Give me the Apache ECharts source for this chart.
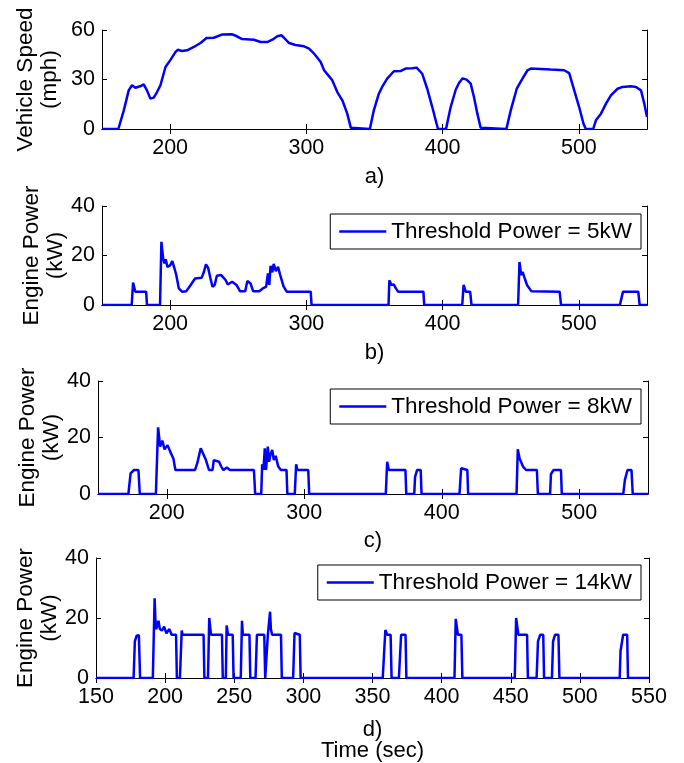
<!DOCTYPE html>
<html>
<head>
<meta charset="utf-8">
<title>Vehicle speed and engine power</title>
<script src="https://cdn.jsdelivr.net/npm/echarts@6/dist/echarts.min.js"></script>
<style>
  html, body { margin: 0; padding: 0; background: #fff; }
  #chart { width: 684px; height: 763px; }
</style>
</head>
<body>
<div id="chart"></div>
<script>
// [time (sec), value] pairs
var speedMph = [[150,0],[162,0],[166,11.3],[169.6,23.4],[172,26.5],[174.5,25],[178,25.9],[180.6,27],[183,23.4],[185.5,18.4],[188,19],[190.4,22.4],[192.9,26.5],[196.6,37.6],[200,41.6],[204,46.7],[205.6,48],[208.8,47.3],[212.5,47.7],[217.4,49.7],[222.3,52.1],[226.7,55.1],[232,55.3],[238,57.2],[245.6,57.4],[249,56.2],[252.9,54.5],[261.5,54.1],[266.4,52.7],[271.3,52.7],[275,54.1],[278.7,56.2],[281.6,56.8],[283.6,55.3],[287.3,52.1],[292,50.9],[298.3,50.1],[302,48.7],[305.6,45.7],[310.5,40.6],[313,35.6],[316.7,31.9],[319,29.5],[322.7,22.4],[326.4,17.4],[330,9.3],[332.6,0.8],[333.8,0],[346.6,0],[349.5,11.3],[353.2,21.4],[355.6,25.5],[359.3,30.5],[364.2,35],[369,35.1],[372.8,36.6],[377.7,36.8],[380.9,37.2],[385,33.5],[388.7,24.4],[392.4,13.3],[394.9,5.3],[396.6,0],[402.5,0],[405.9,13.3],[409.6,23.8],[412,27.9],[414.7,30.7],[417.6,29.9],[420.6,27.5],[423,19.4],[425.5,9.3],[427.9,0.8],[428.4,0],[446.8,0],[450,11.3],[454.4,24.4],[458.6,30.5],[462.3,35.6],[464.7,36.6],[472,36.4],[479.4,36],[489.2,35.6],[492.9,33.9],[496.6,23.4],[500.2,13.3],[503.4,3.2],[505.1,0],[510.5,0],[512.5,5.3],[516.2,9.3],[519.9,15.4],[523.5,20.4],[528.4,24.4],[532.1,25.5],[538.2,25.9],[541.9,25.5],[545.6,23.4],[548,15.4],[550,7.3]];

var power5kW = [[150,0],[171.8,0],[172.8,9.1],[174.4,5.4],[182.4,5.4],[183,0],[192.6,0],[193.6,25.5],[194.9,18.8],[195.8,16.8],[196.8,18.5],[198,15.4],[200,16],[201.6,17.7],[203.2,14.8],[204.5,12.1],[206.4,6.7],[208.7,5.4],[211.9,5.6],[215.1,8.1],[218.3,10.7],[223.1,11],[224.7,13.2],[226.3,16.4],[227.9,15],[229.5,11],[231.1,7.4],[232.7,8.1],[234.3,11.8],[237.5,12.1],[240.7,10.1],[242.3,8.3],[245.5,9.4],[248.7,8.1],[251.3,5.6],[255.1,5.6],[256.7,9.7],[259,8.7],[260.9,5.6],[265.4,5.6],[268,6.7],[270.5,7.4],[271.8,12.8],[272.8,8.1],[273.7,15.8],[275,13.2],[276,16.6],[277.6,13.7],[279.2,15.4],[280.8,12.1],[283.3,7.4],[285.6,5.4],[303.2,5.4],[303.8,0],[360.3,0],[360.9,10],[362.5,8.1],[364.1,8.3],[365.7,6.7],[367.3,5.4],[385.9,5.4],[386.5,0],[414.4,0],[415.4,8.1],[417,5.4],[420.2,5.4],[421.2,0],[455.4,0],[456.4,17.4],[457.7,12.1],[458.7,13.4],[460.3,10.7],[461.9,8.1],[465.1,5.6],[485.9,5.4],[486.9,0],[530.1,0],[532.4,5.4],[543.6,5.4],[544.6,0],[550,0]];

var power8kW = [[150,0],[172.1,0],[173.7,7.3],[176.2,8.5],[179.4,8.5],[180.4,0],[192.1,0],[193.7,23.6],[195.2,16.8],[196.8,18.9],[198.4,15.8],[200.6,17.3],[202.5,15],[204.8,12.6],[206.3,8.5],[220.6,8.5],[222.2,10.9],[224.7,16.2],[226,16.5],[228.5,12],[230.7,8.5],[233.3,8.5],[234.2,12],[238,11.4],[239.6,9.7],[241.2,8.5],[243.7,9.4],[246,8.5],[263.4,8.5],[264.3,0],[268.7,0],[269.4,10.5],[270.3,8.5],[271.3,16.2],[272.2,8.5],[273.5,16.8],[274.4,11.4],[275.4,13.8],[276.7,15.6],[277.9,12],[279.2,13.5],[281.1,9.7],[283,8.5],[287.1,8.5],[287.7,0],[293.1,0],[294.1,10.5],[295,8.5],[302.9,8.5],[303.6,0],[359.3,0],[360.3,11.4],[361.5,8.5],[373.6,8.5],[374.2,0],[380,0],[380.6,6.1],[382.1,8.5],[384.7,8.5],[385.3,0],[412.9,0],[414.1,9.1],[414.8,8.5],[418.6,8.5],[419.2,0],[454.4,0],[455.3,15.8],[456.6,12.6],[457.5,13],[459.1,9.7],[461.3,8.5],[469.2,8.5],[469.9,0],[478.8,0],[479.4,7],[481.3,8.5],[486.7,8.5],[487.3,0],[532,0],[533.2,5],[535.1,8.5],[538,8.5],[538.9,0],[550,0]];

var power14kW = [[150,0],[177.2,0],[178.1,12.2],[179.4,14.1],[181,14.3],[181.9,0],[191.1,0],[192.4,26.6],[193,19.1],[193.6,16.3],[195.2,19.1],[196.2,16.3],[197.7,15.8],[199.3,17.1],[200.9,14.9],[203.1,16.3],[204.7,14.4],[207.9,14.4],[208.5,0],[210.7,0],[212,15.8],[212.6,14.4],[227.8,14.4],[228.4,0],[231,0],[231.9,20],[233.2,14.4],[241.1,14.4],[241.7,0],[243.9,0],[244.5,17.5],[245.5,14.4],[248.9,14.4],[249.5,0],[254.7,0],[255.6,19.1],[256.2,14.4],[261,14.4],[261.6,0],[265.4,0],[266.4,14.4],[271.7,14.4],[272.4,0],[273.5,0],[274.3,14.4],[275.9,22.1],[276.5,16.3],[277.4,14.4],[283.8,14.4],[284.4,0],[292.6,0],[293.6,15],[294.8,14.4],[297.4,14.4],[298,0],[357.4,0],[359.3,16],[360.6,14.4],[363.1,14.4],[363.8,0],[369.1,0],[370.7,14.4],[373.9,14.4],[374.5,0],[409.3,0],[410.2,19.7],[411.8,14.4],[414.3,14.4],[415,0],[452.9,0],[453.9,20],[455.5,14.4],[461.8,14.4],[462.4,0],[468.7,0],[469.7,12.2],[471.3,14.4],[473.5,14.4],[474.1,0],[479.8,0],[480.6,12.2],[482,14.4],[484.5,14.4],[485.2,0],[528.8,0],[529.4,9],[531.3,14.4],[534.2,14.4],[534.8,0],[550,0]];

var panelLabels = ['a)', 'b)', 'c)', 'd)\nTime (sec)'];
var yNames = ['Vehicle Speed\n(mph)', 'Engine Power\n(kW)', 'Engine Power\n(kW)', 'Engine Power\n(kW)'];
var yMax = [60, 40, 40, 40];
var yStep = [30, 20, 20, 20];
var seriesNames = ['Vehicle Speed', 'Threshold Power = 5kW', 'Threshold Power = 8kW', 'Threshold Power = 14kW'];
var seriesData = [speedMph, power5kW, power8kW, power14kW];
var xTicksMain = [200, 300, 400, 500];

var FONT = '"Liberation Sans", Arial, sans-serif';
var grids = [
  {left: 102, right: 37, top: 30, height: 99},
  {left: 102, right: 37, top: 206, height: 99},
  {left: 98, right: 36, top: 381, height: 113},
  {left: 96, right: 35, top: 558, height: 120}
];
var labelGaps = [37, 37, 36, 41];
var nameGaps = [40, 34, 34, 34];
var legendTops = [0, 214, 389, 565];
var legendRights = [0, 43, 43, 43];

var xAxes = [], yAxes = [], series = [], legends = [];
var line = {show: true, lineStyle: {color: '#000', width: 1}};

grids.forEach(function (g, i) {
  var isLast = i === 3;
  var tickCfg = {show: true, inside: true, length: 5, lineStyle: {color: '#000'}};
  if (!isLast) tickCfg.customValues = xTicksMain;
  var labelCfg = {show: true, fontSize: 21.5, color: '#000', fontFamily: FONT, margin: 8};
  if (!isLast) labelCfg.customValues = xTicksMain;

  xAxes.push({
    type: 'value', gridIndex: i, position: 'bottom', min: 150, max: 550, interval: 50,
    axisLine: line, axisTick: tickCfg, axisLabel: labelCfg, splitLine: {show: false},
    name: panelLabels[i], nameLocation: 'middle', nameGap: labelGaps[i], nameMoveOverlap: false,
    nameTextStyle: {fontSize: 22, color: '#000', fontFamily: FONT, lineHeight: 21}
  });
  xAxes.push({
    type: 'value', gridIndex: i, position: 'top', min: 150, max: 550, interval: 50,
    axisLine: line, axisTick: tickCfg, axisLabel: {show: false}, splitLine: {show: false}
  });
  yAxes.push({
    type: 'value', gridIndex: i, position: 'left', min: 0, max: yMax[i], interval: yStep[i],
    axisLine: line,
    axisTick: {show: true, inside: true, length: 5, lineStyle: {color: '#000'}},
    axisLabel: {fontSize: 21.5, color: '#000', fontFamily: FONT, margin: 7},
    splitLine: {show: false},
    name: yNames[i], nameLocation: 'middle', nameRotate: 90, nameGap: nameGaps[i],
    nameMoveOverlap: false,
    nameTextStyle: {fontSize: 22.5, color: '#000', fontFamily: FONT, lineHeight: 24}
  });
  yAxes.push({
    type: 'value', gridIndex: i, position: 'right', min: 0, max: yMax[i], interval: yStep[i],
    axisLine: line,
    axisTick: {show: true, inside: true, length: 5, lineStyle: {color: '#000'}},
    axisLabel: {show: false}, splitLine: {show: false}
  });
  series.push({
    name: seriesNames[i], type: 'line', xAxisIndex: i * 2, yAxisIndex: i * 2,
    data: seriesData[i], showSymbol: false, symbol: 'none', animation: false,
    lineStyle: {color: '#0000ff', width: 2.5}, itemStyle: {color: '#0000ff'}
  });
  if (i > 0) {
    legends.push({
      data: [seriesNames[i]], right: legendRights[i], top: legendTops[i],
      orient: 'horizontal', icon: 'rect', itemWidth: 47, itemHeight: 2.5, itemGap: 0,
      padding: [6, 9, 6, 9], borderColor: '#000', borderWidth: 1, backgroundColor: '#fff',
      selectedMode: false,
      textStyle: {fontSize: 22.5, color: '#000', fontFamily: FONT}
    });
  }
});

var chart = echarts.init(document.getElementById('chart'), null, {renderer: 'canvas'});
chart.setOption({
  animation: false,
  backgroundColor: '#fff',
  grid: grids,
  xAxis: xAxes,
  yAxis: yAxes,
  legend: legends,
  series: series
});
</script>
</body>
</html>
